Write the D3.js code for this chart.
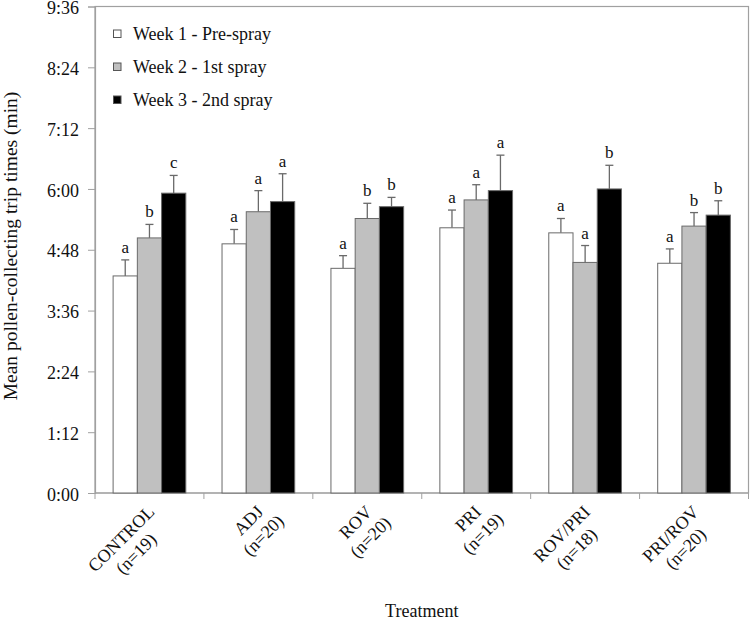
<!DOCTYPE html>
<html><head><meta charset="utf-8">
<script src="https://cdn.jsdelivr.net/npm/d3@7"></script>
<style>body{margin:0;background:#fff}svg{display:block}text{font-family:"Liberation Serif","Times New Roman",serif;fill:#111}</style>
</head><body>
<script>
const categories = ["CONTROL","ADJ","ROV","PRI","ROV/PRI","PRI/ROV"];
const sampleSizes = ["(n=19)","(n=20)","(n=20)","(n=19)","(n=18)","(n=20)"];
const seriesNames = ["Week 1 - Pre-spray","Week 2 - 1st spray","Week 3 - 2nd spray"];
// mean trip times in seconds
const week1 = [257, 295, 266, 314, 308, 272];
const week2 = [302, 333, 325, 347, 273, 316];
const week3 = [355, 345, 339, 358, 360, 329];
// standard errors in seconds
const week1Err = [19, 17, 15, 21, 17, 17];
const week2Err = [16, 25, 18, 18, 20, 16];
const week3Err = [21, 33, 11, 42, 28, 17];
const week1Letters = ["a","a","a","a","a","a"];
const week2Letters = ["b","a","b","a","a","b"];
const week3Letters = ["c","a","b","a","b","b"];
const yTicks = [0,72,144,216,288,360,432,504,576];

const W = 750, H = 621;
const m = {left:95, top:6.5, right:748.5, bottom:493};
const svg = d3.select("body").append("svg").attr("width",W).attr("height",H);

const x0 = d3.scaleBand().domain(categories).range([m.left, m.right]).paddingInner(0).paddingOuter(0);
const barBlock = 72.7;
const x1 = d3.scaleBand().domain([0,1,2]).range([0, barBlock]);
const y = d3.scaleLinear().domain([0,576]).range([m.bottom, m.top]);
const fmt = s => Math.floor(s/60) + ":" + String(s%60).padStart(2,"0");

const fills = ["#ffffff","#c0c0c0","#000000"];
const vals = [week1, week2, week3];
const errs = [week1Err, week2Err, week3Err];
const lets = [week1Letters, week2Letters, week3Letters];
const gridCol = "#a0a0a0";

// frame
svg.append("rect").attr("x",m.left).attr("y",m.top).attr("width",m.right-m.left).attr("height",m.bottom-m.top)
  .attr("fill","none").attr("stroke",gridCol).attr("stroke-width",1.2);

// y axis
const ya = svg.append("g").attr("transform",`translate(${m.left},0)`)
  .call(d3.axisLeft(y).tickValues(yTicks).tickFormat(fmt).tickSize(7).tickPadding(9));
ya.select(".domain").attr("stroke",gridCol).attr("stroke-width",1.2);
ya.selectAll(".tick line").attr("stroke",gridCol);
ya.selectAll(".tick text").style("font-family","Liberation Serif, serif").style("font-size","18px")
  .attr("fill","#111").attr("dy","0.4em");

// x axis with ticks at group boundaries
const xa = svg.append("g").attr("transform",`translate(0,${m.bottom})`);
xa.append("line").attr("x1",m.left).attr("x2",m.right).attr("stroke",gridCol).attr("stroke-width",1.2);
const bounds = categories.map(c=>x0(c)).concat([m.right]);
xa.selectAll("line.t").data(bounds).join("line").attr("class","t")
  .attr("x1",d=>d).attr("x2",d=>d).attr("y1",0).attr("y2",6).attr("stroke",gridCol);

// bars
categories.forEach((c,i)=>{
  const gx = x0(c) + (x0.bandwidth()-barBlock)/2;
  for(let s=0;s<3;s++){
    const bx = gx + x1(s), bw = x1.bandwidth(), v = vals[s][i], e = errs[s][i];
    const cx = bx + bw/2;
    svg.append("line").attr("x1",cx).attr("x2",cx).attr("y1",y(v)).attr("y2",y(v+e)).attr("stroke","#6a6a6a").attr("stroke-width",1.3);
    svg.append("line").attr("x1",cx-4).attr("x2",cx+4).attr("y1",y(v+e)).attr("y2",y(v+e)).attr("stroke","#6a6a6a").attr("stroke-width",1.3);
    svg.append("rect").attr("x",bx).attr("y",y(v)).attr("width",bw).attr("height",y(0)-y(v))
      .attr("fill",fills[s]).attr("stroke","#6a6a6a").attr("stroke-width",1);
    svg.append("text").attr("x",cx).attr("y",y(v+e)-7).attr("text-anchor","middle")
      .style("font-size","17px").text(lets[s][i]);
  }
  const lab = svg.append("g").attr("transform",`translate(${x0(c)+x0.bandwidth()/2+6},${m.bottom+20}) rotate(-45)`);
  const t1 = lab.append("text").attr("x",0).attr("y",0).attr("text-anchor","end").style("font-size","18px").text(c);
  const len1 = t1.node().getComputedTextLength();
  lab.append("text").attr("x",-len1/2).attr("y",21).attr("text-anchor","middle").style("font-size","18px").text(sampleSizes[i]);
});

// legend
seriesNames.forEach((n,i)=>{
  const ly = 30 + i*33;
  svg.append("rect").attr("x",113.5).attr("y",ly).attr("width",7.5).attr("height",7.5)
    .attr("fill",fills[i]).attr("stroke","#555").attr("stroke-width",1);
  svg.append("text").attr("x",133).attr("y",ly+9.5).style("font-size","18px").text(n);
});

// axis titles
svg.append("text").attr("transform",`translate(16.5,246) rotate(-90)`).attr("text-anchor","middle")
  .style("font-size","19.5px").text("Mean pollen-collecting trip times (min)");
svg.append("text").attr("x",(m.left+m.right)/2).attr("y",617).attr("text-anchor","middle")
  .style("font-size","18px").text("Treatment");
</script>
</body></html>
